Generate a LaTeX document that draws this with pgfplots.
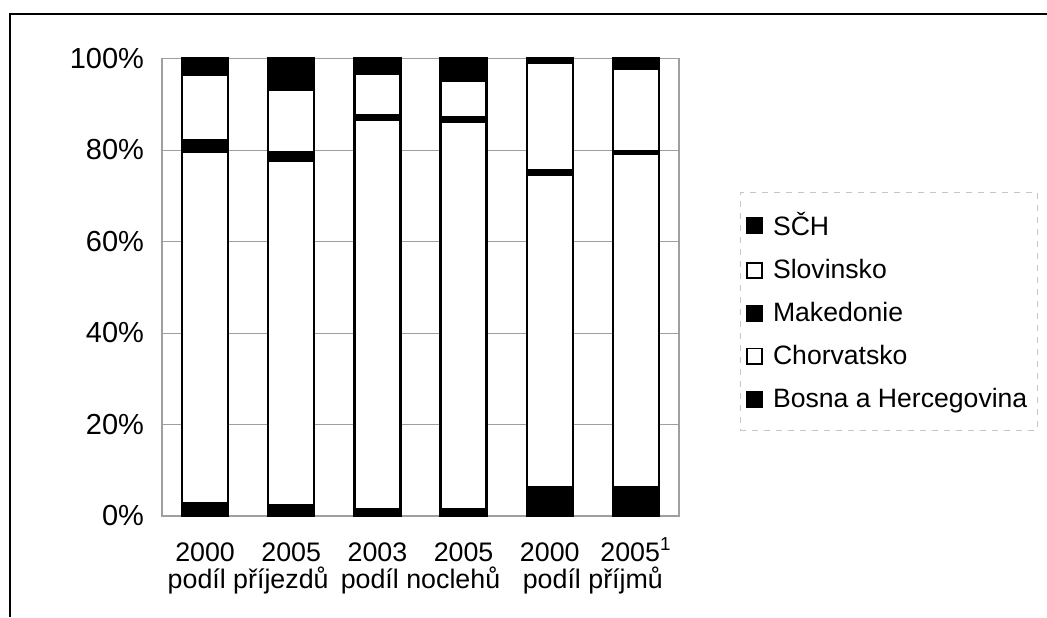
\documentclass[border=0pt]{standalone}
\usepackage{fontspec}
\setmainfont{Liberation Sans}
\usepackage{pgfplots}
\pgfplotsset{compat=1.18}
\begin{document}
\begin{tikzpicture}
\path[use as bounding box] (0pt,0pt) rectangle (523.5pt,308.5pt);
\draw[line width=1pt] (5pt,0pt) -- (5pt,301.5pt) -- (523.5pt,301.5pt);
\begin{axis}[
  at={(81pt,50.5pt)}, anchor=south west,
  scale only axis, width=258.5pt, height=228.75pt,
  ybar stacked, bar width=23pt,
  xmin=-0.5, xmax=5.5, ymin=0, ymax=100,
  xtick={0,...,5},
  xticklabels={2000,2005,2003,2005,2000,2005\textsuperscript{1}},
  ytick={0,20,...,100},
  yticklabels={0\%,20\%,40\%,60\%,80\%,100\%},
  ymajorgrids, grid style={gray!75, line width=0.5pt},
  major tick length=0pt,
  axis line style={gray!75, line width=0.6pt},
  yticklabel style={font=\fontsize{14.5}{16}\selectfont, xshift=-5.5pt},
  xticklabel style={font=\fontsize{13.4}{16}\selectfont, anchor=base, yshift=-22.5pt},
  legend style={at={(rel axis cs:1.118,0.708)}, anchor=north west,
    draw=gray!45, dashed, fill=white, font=\fontsize{13.3}{15}\selectfont,
    row sep=6.3pt, inner xsep=3pt, inner ysep=8pt,
    /tikz/every odd column/.append style={column sep=3pt}},
  legend cell align=left,
  reverse legend,
  every axis plot/.append style={draw=black, line width=1.2pt, solid},
  legend image code/.code={\draw[#1, line width=0.8pt, solid] (0pt,-3.8pt) rectangle (7.5pt,3.8pt);},
  clip=false,
]
\addplot[fill=black] coordinates {(0,2.8) (1,2.4) (2,1.5) (3,1.5) (4,6.3) (5,6.3)};
\addlegendentry{Bosna a Hercegovina}
\addplot[fill=white] coordinates {(0,76.8) (1,75.3) (2,85.2) (3,84.7) (4,68.2) (5,72.9)};
\addlegendentry{Chorvatsko}
\addplot[fill=black] coordinates {(0,2.5) (1,1.8) (2,1.0) (3,0.9) (4,1.0) (5,0.5)};
\addlegendentry{Makedonie}
\addplot[fill=white] coordinates {(0,14.4) (1,13.7) (2,8.9) (3,8.1) (4,23.6) (5,18.0)};
\addlegendentry{Slovinsko}
\addplot[fill=black] coordinates {(0,3.5) (1,6.8) (2,3.4) (3,4.8) (4,0.9) (5,2.3)};
\addlegendentry{SČH}
\node[font=\fontsize{13.4}{16}\selectfont] at (axis cs:0.5,0) [yshift=-32pt] {podíl příjezdů};
\node[font=\fontsize{13.4}{16}\selectfont] at (axis cs:2.5,0) [yshift=-32pt] {podíl noclehů};
\node[font=\fontsize{13.4}{16}\selectfont] at (axis cs:4.5,0) [yshift=-32pt] {podíl příjmů};
\end{axis}
\end{tikzpicture}
\end{document}
